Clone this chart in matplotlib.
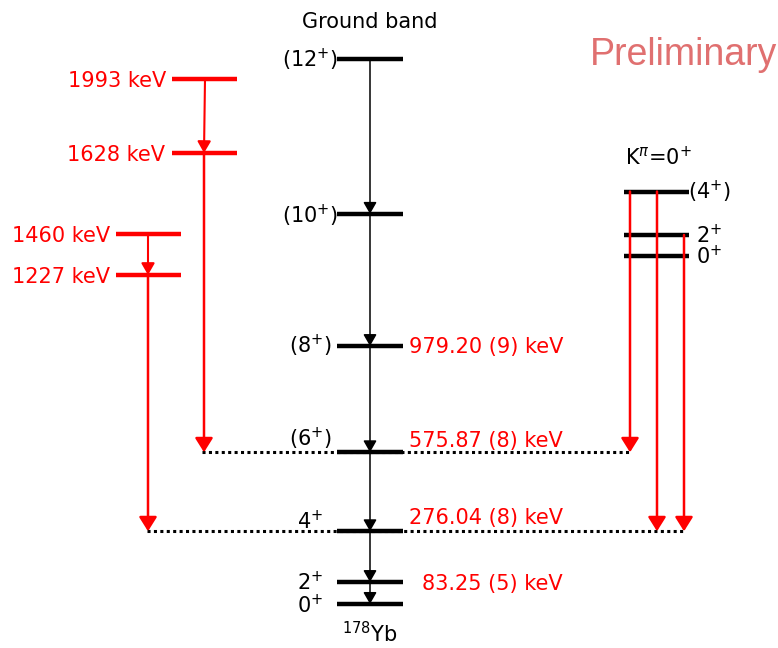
import matplotlib.pyplot as plt

gs_spins = ['0$^{+}$', '2$^{+}$', '4$^{+}$', '(6$^{+}$)', '(8$^{+}$)', '(10$^{+}$)', '(12$^{+}$)']
gs_energy = [0.0, 83.25, 276.04, 575.87, 979.20, 1481, 2069]
gs_elabels = ['', '83.25 (5) keV', '276.04 (8) keV', '575.87 (8) keV', '979.20 (9) keV', '', '']

# side levels feeding the band (label energy, height in the scheme)
side_labels = ['1993 keV', '1628 keV', '1460 keV', '1227 keV']
side_height = [1993, 1712, 1405, 1249]

# K=0+ band (heights in the scheme)
k_spins = ['0$^{+}$', '2$^{+}$', '(4$^{+}$)']
k_height = [1321, 1401, 1566]

RED = '#ff0000'
PX = 0.2634          # pixels per keV in the scheme
Y0 = 604             # pixel row of the 0+ level
pt = 0.72            # points per pixel at dpi 100

fig = plt.figure(figsize=(7.78, 6.48), dpi=100)
ax = fig.add_axes([0, 0, 1, 1])
ax.set_xlim(0, 778)
ax.set_ylim(-(648 - Y0) / PX, Y0 / PX)
ax.axis('off')


def arrow(x0, y0, x1, y1, color, lw, hl, hw):
    ax.annotate('', xy=(x1, y1), xytext=(x0, y0),
                arrowprops=dict(arrowstyle=f'-|>,head_length={hl},head_width={hw}',
                                color=color, lw=lw, mutation_scale=20,
                                shrinkA=0, shrinkB=0))


def label(x, y, s, dy_px, color='k', ha='center', size=15):
    ax.annotate(s, xy=(x, y), xytext=(0, -dy_px * pt), textcoords='offset points',
                ha=ha, va='baseline', color=color, fontsize=size)


# dotted guide lines at the 6+ and 4+ levels
ax.plot([202, 630], [gs_energy[3]] * 2, color='k', lw=2.2, ls=(0, (1, 1.1)))
ax.plot([147, 683], [gs_energy[2]] * 2, color='k', lw=2.2, ls=(0, (1, 1.1)))

# levels
ax.hlines(gs_energy, 337, 403, color='k', lw=3.2)
ax.hlines(side_height[:2], 172, 237, color=RED, lw=3.2)
ax.hlines(side_height[2:], 116, 181, color=RED, lw=3.2)
ax.hlines(k_height, 624, 689, color='k', lw=3.2)

# ground-band cascade
for i in range(len(gs_energy) - 1):
    arrow(370, gs_energy[i + 1], 370, gs_energy[i], 'k', 1.1, 0.35, 0.2)

# side transitions
arrow(205, side_height[0], 204, side_height[1], RED, 1.5, 0.35, 0.2)
arrow(204, side_height[1], 204, gs_energy[3], RED, 1.8, 0.43, 0.27)
arrow(148, side_height[2], 148, side_height[3], RED, 1.5, 0.35, 0.2)
arrow(148, side_height[3], 148, gs_energy[2], RED, 1.8, 0.43, 0.27)

# K band decays
arrow(630, k_height[2], 630, gs_energy[3], RED, 1.8, 0.43, 0.27)
arrow(657, k_height[2], 657, gs_energy[2], RED, 1.8, 0.43, 0.27)
arrow(684, k_height[1], 684, gs_energy[2], RED, 1.8, 0.43, 0.27)

# spin labels
gs_dy = [9, 8, -2, -6, 7, 9, 8]
for e, s, d in zip(gs_energy, gs_spins, gs_dy):
    label(310, e, s, d)
el_dy = [0, 8, -7, -5, 7, 0, 0]
for e, s, d in zip(gs_energy, gs_elabels, el_dy):
    if s:
        label(563, e, s, d, color=RED, ha='right')
for h, s, x in zip(side_height, side_labels, [166, 165, 110, 110]):
    label(x, h, s, 8, color=RED, ha='right')
for h, s in zip(k_height, k_spins):
    label(709, h, s, 8)

# titles
ax.text(370, 1 - 28 / 648, 'Ground band', transform=ax.get_xaxis_transform(),
        ha='center', va='baseline', fontsize=15)
ax.text(625, 1 - 165 / 648, 'K$^{\\pi}$=0$^{+}$', transform=ax.get_xaxis_transform(),
        ha='left', va='baseline', fontsize=15)
ax.text(370, 1 - 642 / 648, '$^{178}$Yb', transform=ax.get_xaxis_transform(),
        ha='center', va='baseline', fontsize=15)
ax.text(590, 1 - 65 / 648, 'Preliminary', transform=ax.get_xaxis_transform(),
        ha='left', va='baseline', fontsize=27, color='#e07070',
        family=['Liberation Sans', 'DejaVu Sans'])

fig.savefig('out.png', dpi=100)
